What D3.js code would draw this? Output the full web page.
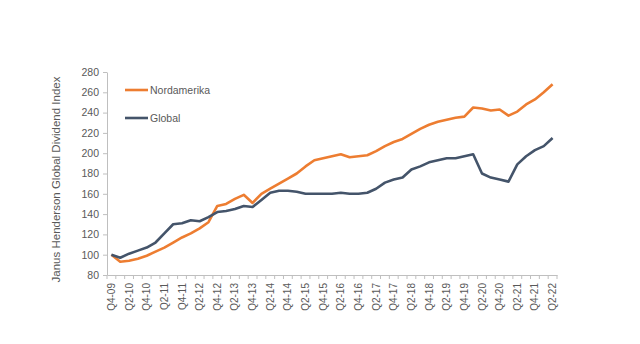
<!DOCTYPE html>
<html>
<head>
<meta charset="utf-8">
<script src="https://cdn.jsdelivr.net/npm/d3@7"></script>
<style>
html,body{margin:0;padding:0;background:#fff;}
svg{display:block;}
text{font-family:"Liberation Sans",Arial,sans-serif;}
</style>
</head>
<body>
<svg id="chart" width="640" height="344"></svg>
<script>
const quarters = ["Q4-09","Q1-10","Q2-10","Q3-10","Q4-10","Q1-11","Q2-11","Q3-11","Q4-11","Q1-12","Q2-12","Q3-12","Q4-12","Q1-13","Q2-13","Q3-13","Q4-13","Q1-14","Q2-14","Q3-14","Q4-14","Q1-15","Q2-15","Q3-15","Q4-15","Q1-16","Q2-16","Q3-16","Q4-16","Q1-17","Q2-17","Q3-17","Q4-17","Q1-18","Q2-18","Q3-18","Q4-18","Q1-19","Q2-19","Q3-19","Q4-19","Q1-20","Q2-20","Q3-20","Q4-20","Q1-21","Q2-21","Q3-21","Q4-21","Q1-22","Q2-22"];
const nordamerika = [100,93,94,96,99,103,107,112,117,121,126,132,148,150,155,159,151,160,165,170,175,180,187,193,195,197,199,196,197,198,202,207,211,214,219,224,228,231,233,235,236,245,244,242,243,237,241,248,253,260,268];
const globalIdx = [100,97,101,104,107,112,121,130,131,134,133,137,142,143,145,148,147,154,161,163,163,162,160,160,160,160,161,160,160,161,165,171,174,176,184,187,191,193,195,195,197,199,180,176,174,172,189,197,203,207,215];
const yTicks = [80,100,120,140,160,180,200,220,240,260,280];
const seriesNames = ["Nordamerika","Global"];
const seriesColors = ["#ED7D31","#44546A"];
const yTitle = "Janus Henderson Global Dividend Index";

const svg = d3.select("#chart");
const pL = 107, pR = 557, pT = 72, pB = 275;
const axisColor = "#bfbfbf", textColor = "#595959";

const x = d3.scaleBand().domain(quarters).range([pL, pR]).paddingInner(0).paddingOuter(0);
const y = d3.scaleLinear().domain([80, 280]).range([pB, pT]);

// Y axis
const yAxis = svg.append("g").attr("transform", `translate(${pL},0)`)
  .call(d3.axisLeft(y).tickValues(yTicks).tickSize(4).tickSizeOuter(0).tickPadding(4));
yAxis.select(".domain").attr("stroke", axisColor);
yAxis.selectAll(".tick line").attr("stroke", axisColor);
yAxis.selectAll(".tick text").attr("fill", textColor).attr("font-size", 10.5);

// X axis
const xAxis = svg.append("g").attr("transform", `translate(0,${pB})`)
  .call(d3.axisBottom(x).tickValues(quarters.filter((q,i)=>i%2===0)).tickSize(0).tickSizeOuter(0));
xAxis.select(".domain").attr("stroke", axisColor);
xAxis.selectAll(".tick text")
  .attr("fill", textColor).attr("font-size", 10)
  .attr("transform", "rotate(-90)")
  .attr("text-anchor", "end")
  .attr("x", -8).attr("y", 0).attr("dy", "0.35em");
// tick marks between categories
const bounds = quarters.map(q => x(q)).concat([pR]);
svg.append("g").selectAll("line").data(bounds).join("line")
  .attr("x1", d => d).attr("x2", d => d)
  .attr("y1", pB).attr("y2", pB + 4)
  .attr("stroke", axisColor);

// Lines
const cx = q => x(q) + x.bandwidth()/2;
[nordamerika, globalIdx].forEach((vals, si) => {
  const line = d3.line().x((d,i) => cx(quarters[i])).y(d => y(d));
  svg.append("path").datum(vals)
    .attr("d", line)
    .attr("fill", "none")
    .attr("stroke", seriesColors[si])
    .attr("stroke-width", 2.6)
    .attr("stroke-linejoin", "round");
});

// Legend
const legY = [90, 118];
seriesNames.forEach((n, i) => {
  svg.append("line").attr("x1", 125).attr("x2", 148).attr("y1", legY[i]).attr("y2", legY[i])
    .attr("stroke", seriesColors[i]).attr("stroke-width", 2.6);
  svg.append("text").attr("x", 150).attr("y", legY[i]).attr("dy", "0.35em")
    .attr("fill", textColor).attr("font-size", 10.5).text(n);
});

// Y title
svg.append("text")
  .attr("transform", `translate(60,${(pT+pB)/2 + 6}) rotate(-90)`)
  .attr("text-anchor", "middle")
  .attr("fill", textColor).attr("font-size", 11.5)
  .text(yTitle);
</script>
</body>
</html>
